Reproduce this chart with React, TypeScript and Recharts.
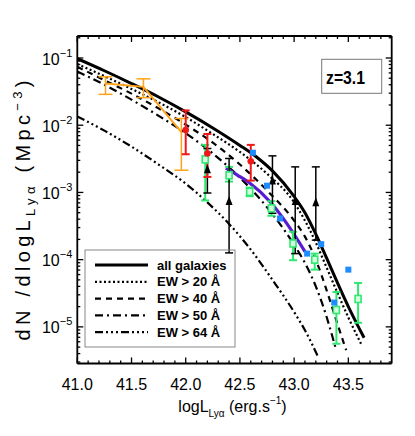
import React from "react";
import {
  ComposedChart,
  Line,
  Scatter,
  XAxis,
  YAxis,
  ErrorBar,
} from "recharts";

// ---------------- data ----------------
// model luminosity functions: [logL, phi (Mpc^-3)]
const allGalaxies = [
  { L: 41.0, phi: 0.0977 }, { L: 41.25, phi: 0.0646 }, { L: 41.5, phi: 0.0417 },
  { L: 41.75, phi: 0.0263 }, { L: 42.0, phi: 0.0158 }, { L: 42.25, phi: 0.00912 },
  { L: 42.5, phi: 0.00501 }, { L: 42.65, phi: 0.00339 }, { L: 42.8, phi: 0.00209 },
  { L: 43.0, phi: 8.7e-4 }, { L: 43.1, phi: 5.0e-4 }, { L: 43.2, phi: 2.4e-4 },
  { L: 43.3, phi: 1.05e-4 }, { L: 43.4, phi: 4.5e-5 }, { L: 43.5, phi: 2.0e-5 },
  { L: 43.6, phi: 9.5e-6 }, { L: 43.645, phi: 6.9e-6 },
];
const ew20 = [
  { L: 41.0, phi: 0.0813 }, { L: 41.25, phi: 0.0537 }, { L: 41.5, phi: 0.0347 },
  { L: 41.75, phi: 0.0219 }, { L: 42.0, phi: 0.0132 }, { L: 42.25, phi: 0.0074 },
  { L: 42.5, phi: 0.004 }, { L: 42.75, phi: 0.0019 }, { L: 43.0, phi: 7.1e-4 },
  { L: 43.1, phi: 3.8e-4 }, { L: 43.2, phi: 1.8e-4 }, { L: 43.3, phi: 7.6e-5 },
  { L: 43.4, phi: 3.2e-5 }, { L: 43.5, phi: 1.38e-5 }, { L: 43.62, phi: 5.5e-6 },
];
const ew40 = [
  { L: 41.0, phi: 0.0741 }, { L: 41.25, phi: 0.0468 }, { L: 41.5, phi: 0.0295 },
  { L: 41.75, phi: 0.0178 }, { L: 42.0, phi: 0.0102 }, { L: 42.25, phi: 0.0055 },
  { L: 42.5, phi: 0.0026 }, { L: 42.75, phi: 0.00107 }, { L: 43.0, phi: 3.8e-4 },
  { L: 43.1, phi: 2.2e-4 }, { L: 43.2, phi: 1.0e-4 }, { L: 43.3, phi: 3.5e-5 },
  { L: 43.4, phi: 1.1e-5 }, { L: 43.48, phi: 4.5e-6 },
];
const ew50 = [
  { L: 41.0, phi: 0.063 }, { L: 41.25, phi: 0.04 }, { L: 41.5, phi: 0.024 },
  { L: 41.75, phi: 0.0138 }, { L: 42.0, phi: 0.0076 }, { L: 42.25, phi: 0.0038 },
  { L: 42.5, phi: 0.00166 }, { L: 42.75, phi: 6.0e-4 }, { L: 43.0, phi: 1.66e-4 },
  { L: 43.1, phi: 8.9e-5 }, { L: 43.2, phi: 4.0e-5 }, { L: 43.3, phi: 1.4e-5 },
  { L: 43.38, phi: 5.0e-6 },
];
const ew64 = [
  { L: 41.0, phi: 0.0135 }, { L: 41.25, phi: 0.0083 }, { L: 41.5, phi: 0.0048 },
  { L: 41.75, phi: 0.0026 }, { L: 42.0, phi: 0.00135 }, { L: 42.2, phi: 7.1e-4 },
  { L: 42.4, phi: 3.4e-4 }, { L: 42.6, phi: 1.41e-4 }, { L: 42.8, phi: 5.0e-5 },
  { L: 43.0, phi: 1.66e-5 }, { L: 43.1, phi: 8.9e-6 }, { L: 43.22, phi: 3.6e-6 },
];

// observed points: value, lower bound, upper bound
const orangeL = [41.26, 41.61, 41.96];
const orangeV = [0.0417, 0.0372, 0.0079];
const orangeLo = [0.0288, 0.0257, 0.00214];
const orangeHi = [0.0525, 0.049, 0.0126];

const redL = [42.0, 42.2, 42.6];
const redV = [0.0085, 0.0038, 0.0029];
const redLo = [0.0037, 0.0017, 0.0015];
const redHi = [0.0166, 0.0074, 0.0051];

const blackL = [42.2, 42.4, 42.8, 43.01, 43.2];
const blackV = [0.00214, 7.2e-4, 0.00145, 7.2e-4, 6.9e-4];
const blackLo = [9.8e-4, 1.26e-4, 4.9e-4, 1.23e-4, 1.95e-4];
const blackHi = [0.0045, 0.0032, 0.0035, 0.0024, 0.0024];

const greenL = [42.18, 42.4, 42.59, 42.79, 42.99, 43.19, 43.39, 43.59];
const greenV = [0.0031, 0.0018, 0.00102, 5.8e-4, 1.74e-4, 1.0e-4, 1.78e-5, 2.6e-5];
const greenLo = [7.6e-4, 0.00145, 8.8e-4, 4.5e-4, 9.8e-5, 7.1e-5, 5.6e-6, 1.15e-5];
const greenHi = [0.0051, 0.0024, 0.00118, 7.4e-4, 2.6e-4, 1.23e-4, 3.3e-5, 4.5e-5];

const blueL = [42.62, 42.75, 42.87, 43.12, 43.25, 43.37, 43.5];
const blueV = [0.0039, 0.00126, 4.1e-4, 1.23e-4, 1.7e-4, 2.3e-5, 7.1e-5];

const purpleL = [42.37, 42.48, 42.59, 42.78, 42.93, 43.1];
const purpleV = [0.0023, 0.0018, 0.00138, 7.2e-4, 3.5e-4, 1.32e-4];

// axes
const X_DOMAIN = [41.0, 43.9];
const Y_DOMAIN = [2.85e-6, 0.2125];
const xMajor = [41.0, 41.5, 42.0, 42.5, 43.0, 43.5];
const xMinor = [41.1, 41.2, 41.3, 41.4, 41.6, 41.7, 41.8, 41.9, 42.1, 42.2, 42.3, 42.4, 42.6, 42.7, 42.8, 42.9, 43.1, 43.2, 43.3, 43.4, 43.6, 43.7, 43.8];
const yExponents = [-5, -4, -3, -2, -1];
const yMinorMult = [2, 3, 4, 5, 6, 7, 8, 9];

const legendItems = [
  { name: "all galaxies", dash: "", width: 3 },
  { name: "EW > 20 Å", dash: "2 2.5", width: 2.2 },
  { name: "EW > 40 Å", dash: "6 5", width: 2.2 },
  { name: "EW > 50 Å", dash: "8 4 2 4", width: 2.2 },
  { name: "EW > 64 Å", dash: "8 3 2 3 2 3 2 3", width: 2.2 },
];

// ---------------- helpers ----------------
const withErr = (L: number[], V: number[], lo: number[], hi: number[]) =>
  L.map((l, i) => ({ L: l, phi: V[i], err: [V[i] - lo[i], hi[i] - V[i]] }));
const pts = (L: number[], V: number[]) => L.map((l, i) => ({ L: l, phi: V[i] }));

const orangeData = withErr(orangeL, orangeV, orangeLo, orangeHi);
const redData = withErr(redL, redV, redLo, redHi);
const blackData = withErr(blackL, blackV, blackLo, blackHi);
const greenData = withErr(greenL, greenV, greenLo, greenHi);
const blueData = pts(blueL, blueV);
const purpleData = pts(purpleL, purpleV);

const yTicks: number[] = [];
yExponents.concat([-6]).forEach((e) => {
  yTicks.push(Math.pow(10, e));
  yMinorMult.forEach((m) => yTicks.push(m * Math.pow(10, e)));
});
const yTicksIn = yTicks
  .filter((t) => t >= Y_DOMAIN[0] && t <= Y_DOMAIN[1])
  .sort((a, b) => a - b);
const isYMajor = (v: number) =>
  yExponents.some((e) => Math.abs(v - Math.pow(10, e)) / Math.pow(10, e) < 1e-6);
const xTicks = xMajor.concat(xMinor).sort((a, b) => a - b);
const isXMajor = (v: number) => xMajor.some((m) => Math.abs(m - v) < 1e-6);

const FONT = "'Liberation Sans', Arial, sans-serif";
const MAJ = 6;
const MIN = 3;

const LeftTick = (p: any) => {
  const v = p.payload.value;
  const major = isYMajor(v);
  const e = Math.round(Math.log10(v));
  return (
    <g>
      <line x1={p.x} x2={p.x + (major ? MAJ : MIN)} y1={p.y} y2={p.y} stroke="#000" strokeWidth={1.3} />
      {major && (
        <text x={p.x - 5} y={p.y + 6.5} textAnchor="end" fontFamily={FONT} fontSize={16} fill="#000">
          <tspan>10</tspan>
          <tspan dy={-8} fontSize={11}>{"\u2212" + Math.abs(e)}</tspan>
        </text>
      )}
    </g>
  );
};
const RightTick = (p: any) => {
  const major = isYMajor(p.payload.value);
  return <line x1={p.x} x2={p.x - (major ? MAJ : MIN)} y1={p.y} y2={p.y} stroke="#000" strokeWidth={1.3} />;
};
const BottomTick = (p: any) => {
  const v = p.payload.value;
  const major = isXMajor(v);
  return (
    <g>
      <line x1={p.x} x2={p.x} y1={p.y} y2={p.y - (major ? MAJ : MIN)} stroke="#000" strokeWidth={1.3} />
      {major && (
        <text x={p.x} y={p.y + 26.5} textAnchor="middle" fontFamily={FONT} fontSize={16} fill="#000">
          {v.toFixed(1)}
        </text>
      )}
    </g>
  );
};
const TopTick = (p: any) => {
  const major = isXMajor(p.payload.value);
  return <line x1={p.x} x2={p.x} y1={p.y} y2={p.y + (major ? MAJ : MIN)} stroke="#000" strokeWidth={1.3} />;
};

const ORANGE = "#FFA31A";
const RED = "#F01818";
const GREEN = "#2EE870";
const BLUE = "#1E8CFF";
const PURPLE = "#5A1CCF";

const Triangle = (p: any) => (
  <path d={`M${p.cx},${p.cy - 6} L${p.cx - 3.5},${p.cy + 3} L${p.cx + 3.5},${p.cy + 3} Z`} fill="#000" />
);
const GreenSquare = (p: any) => (
  <rect x={p.cx - 3} y={p.cy - 3.5} width={6} height={7} fill="#d6ffe0" stroke={GREEN} strokeWidth={1.6} />
);
const BlueSquare = (p: any) => (
  <rect x={p.cx - 3} y={p.cy - 3} width={6} height={6} fill={BLUE} />
);
const RedDot = (p: any) => <circle cx={p.cx} cy={p.cy} r={3.3} fill={RED} />;

export default function App() {
  const W = 400;
  const H = 420;
  return (
    <div style={{ position: "relative", width: W, height: H }}>
      <ComposedChart
        width={W}
        height={H}
        margin={{ top: 27, left: 68.3, right: 15.3, bottom: 63.5 }}
        style={{ background: "#fff" }}
      >
        <XAxis
          xAxisId={0}
          dataKey="L"
          type="number"
          domain={X_DOMAIN}
          allowDataOverflow
          ticks={xTicks}
          interval={0}
          height={1}
          tickSize={0}
          tickMargin={0}
          tickLine={false}
          tick={BottomTick}
          axisLine={{ stroke: "#000", strokeWidth: 1.8 }}
        />
        <XAxis
          xAxisId="top"
          orientation="top"
          dataKey="L"
          type="number"
          domain={X_DOMAIN}
          allowDataOverflow
          ticks={xTicks}
          interval={0}
          height={1}
          tickSize={0}
          tickMargin={0}
          tickLine={false}
          tick={TopTick}
          axisLine={{ stroke: "#000", strokeWidth: 1.8 }}
        />
        <YAxis
          yAxisId={0}
          type="number"
          scale="log"
          domain={Y_DOMAIN}
          allowDataOverflow
          ticks={yTicksIn}
          interval={0}
          width={1}
          tickSize={0}
          tickMargin={0}
          tickLine={false}
          tick={LeftTick}
          axisLine={{ stroke: "#000", strokeWidth: 1.8 }}
        />
        <YAxis
          yAxisId="right"
          orientation="right"
          type="number"
          scale="log"
          domain={Y_DOMAIN}
          allowDataOverflow
          ticks={yTicksIn}
          interval={0}
          width={1}
          tickSize={0}
          tickMargin={0}
          tickLine={false}
          tick={RightTick}
          axisLine={{ stroke: "#000", strokeWidth: 1.8 }}
        />

        <Line data={ew64} dataKey="phi" type="monotone" stroke="#000" strokeWidth={2.2} strokeDasharray="8 3 2 3 2 3 2 3" dot={false} isAnimationActive={false} />
        <Line data={ew50} dataKey="phi" type="monotone" stroke="#000" strokeWidth={2.2} strokeDasharray="8 4 2 4" dot={false} isAnimationActive={false} />
        <Line data={ew40} dataKey="phi" type="monotone" stroke="#000" strokeWidth={2.2} strokeDasharray="6 5" dot={false} isAnimationActive={false} />
        <Line data={ew20} dataKey="phi" type="monotone" stroke="#000" strokeWidth={2.2} strokeDasharray="2 2.5" dot={false} isAnimationActive={false} />
        <Line data={allGalaxies} dataKey="phi" type="monotone" stroke="#000" strokeWidth={3} dot={false} isAnimationActive={false} />

        <Line data={orangeData} dataKey="phi" type="linear" stroke={ORANGE} strokeWidth={2} dot={false} isAnimationActive={false}>
          <ErrorBar dataKey="err" direction="y" width={7} stroke={ORANGE} strokeWidth={1.5} />
        </Line>
        <Line data={purpleData} dataKey="phi" type="monotone" stroke={PURPLE} strokeWidth={3.2} dot={false} isAnimationActive={false} />

        <Scatter data={greenData} dataKey="phi" shape={GreenSquare} isAnimationActive={false}>
          <ErrorBar dataKey="err" direction="y" width={4} stroke={GREEN} strokeWidth={2} />
        </Scatter>
        <Scatter data={blackData} dataKey="phi" shape={Triangle} isAnimationActive={false}>
          <ErrorBar dataKey="err" direction="y" width={4} stroke="#000" strokeWidth={1.5} />
        </Scatter>
        <Scatter data={redData} dataKey="phi" shape={RedDot} isAnimationActive={false}>
          <ErrorBar dataKey="err" direction="y" width={4} stroke={RED} strokeWidth={2} />
        </Scatter>
        <Scatter data={blueData} dataKey="phi" shape={BlueSquare} isAnimationActive={false} />
      </ComposedChart>

      <svg
        width={W}
        height={H}
        style={{ position: "absolute", left: 0, top: 0, pointerEvents: "none" }}
      >
        {/* y label */}
        <text
          x={22}
          y={202.5}
          transform="rotate(-90 22 202.5)"
          textAnchor="middle"
          fontFamily={FONT}
          fontSize={20}
          fill="#000"
          textLength={260}
          lengthAdjust="spacing"
        >
          <tspan>dN /dlogL</tspan>
          <tspan fontSize={13} dy={5}>Lyα</tspan>
          <tspan dy={-5}>{"  (Mpc"}</tspan>
          <tspan fontSize={13} dy={-8}>{"\u22123"}</tspan>
          <tspan dy={8}>)</tspan>
        </text>
        {/* x label */}
        <text
          x={224.5}
          y={404}
          textAnchor="middle"
          fontFamily={FONT}
          fontSize={16}
          fill="#000"
        >
          <tspan>logL</tspan>
          <tspan fontSize={10} dy={5}>Lyα</tspan>
          <tspan dy={-5}>{" (erg.s"}</tspan>
          <tspan fontSize={10} dy={-8}>{"\u22121"}</tspan>
          <tspan dy={8}>)</tspan>
        </text>

        {/* z label */}
        <rect x={313.7} y={51.3} width={60} height={34} fill="none" stroke="#777" strokeWidth={1} />
        <text
          x={318}
          y={76}
          fontFamily={FONT}
          fontWeight="bold"
          fontSize={19}
          fill="#000"
          textLength={39}
          lengthAdjust="spacingAndGlyphs"
        >
          z=3.1
        </text>

        {/* legend */}
        <rect x={77} y={242} width={150} height={97} fill="none" stroke="#888" strokeWidth={1} />
        {legendItems.map((it, i) => {
          const y = 257 + i * 16.8;
          return (
            <g key={it.name}>
              <line x1={87} x2={140} y1={y} y2={y} stroke="#000" strokeWidth={it.width} strokeDasharray={it.dash || undefined} />
              <text x={149} y={y + 4.5} fontFamily={FONT} fontWeight="bold" fontSize={13} fill="#000">
                {it.name}
              </text>
            </g>
          );
        })}
      </svg>
    </div>
  );
}
